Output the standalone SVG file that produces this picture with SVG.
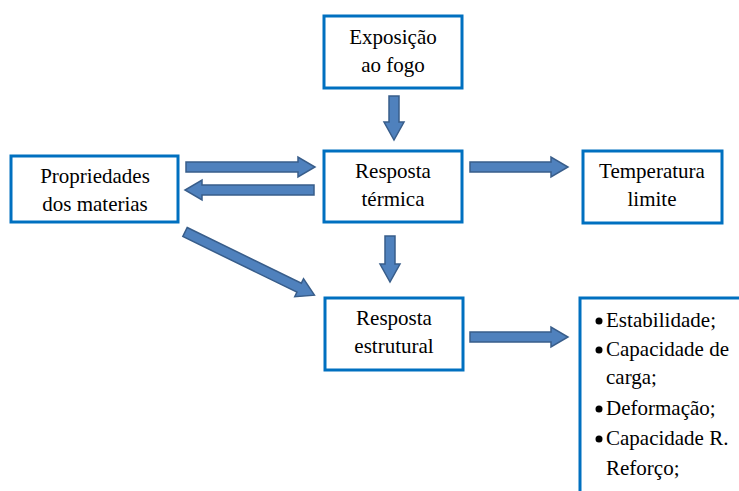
<svg xmlns="http://www.w3.org/2000/svg" width="739" height="491" viewBox="0 0 739 491">
<style>
.box{fill:#fff;stroke:#0070C0;stroke-width:3}
text{font-family:'Liberation Serif','Times New Roman',serif;font-size:21px;fill:#000}
.t{text-anchor:middle}
.arr{fill:#4F81BD;stroke:#385D8A;stroke-width:1.5}
</style>
<rect width="739" height="491" fill="#fff"/>
<g id="connectors">
<polygon class="arr" points="389,96 399,96 399,122 404,122 394,140 384,122 389,122"/>
<polygon class="arr" points="186,162 298,162 298,157 315,167 298,177 298,172 186,172"/>
<polygon class="arr" points="314,185 202,185 202,180 185,190 202,200 202,195 314,195"/>
<polygon class="arr" transform="translate(185,232) rotate(26)" points="0,-5 127,-5 127,-10 144,0 127,10 127,5 0,5"/>
<polygon class="arr" points="470,162 551,162 551,157 568,167 551,177 551,172 470,172"/>
<polygon class="arr" points="385,236 395,236 395,264 400,264 390,282 380,264 385,264"/>
<polygon class="arr" points="470,332 551,332 551,327 568,337 551,347 551,342 470,342"/>
</g>
<g id="n-exposicao">
<rect class="box" x="324" y="16" width="138" height="72"/>
<text class="t" x="393" y="44">Exposição</text>
<text class="t" x="393" y="72">ao fogo</text>
</g>
<g id="n-propriedades">
<rect class="box" x="11" y="156" width="167" height="66"/>
<text class="t" x="95" y="183">Propriedades</text>
<text class="t" x="95" y="211">dos materias</text>
</g>
<g id="n-termica">
<rect class="box" x="324" y="151" width="138" height="71"/>
<text class="t" x="393" y="178">Resposta</text>
<text class="t" x="393" y="206">térmica</text>
</g>
<g id="n-temperatura">
<rect class="box" x="583" y="151" width="139" height="72"/>
<text class="t" x="652" y="178">Temperatura</text>
<text class="t" x="652" y="206">limite</text>
</g>
<g id="n-estrutural">
<rect class="box" x="325" y="298" width="138" height="72"/>
<text class="t" x="394" y="325">Resposta</text>
<text class="t" x="394" y="353">estrutural</text>
</g>
<g id="n-lista">
<rect class="box" x="580" y="298" width="170" height="210"/>
<circle cx="599" cy="321" r="3.5" fill="#000"/>
<text x="606" y="327" textLength="110" lengthAdjust="spacing">Estabilidade;</text>
<circle cx="599" cy="350" r="3.5" fill="#000"/>
<text x="606" y="356">Capacidade de</text>
<text x="606" y="384">carga;</text>
<circle cx="599" cy="409" r="3.5" fill="#000"/>
<text x="606" y="415">Deformação;</text>
<circle cx="599" cy="439" r="3.5" fill="#000"/>
<text x="606" y="445">Capacidade R.</text>
<text x="606" y="475">Reforço;</text>
</g>
</svg>
